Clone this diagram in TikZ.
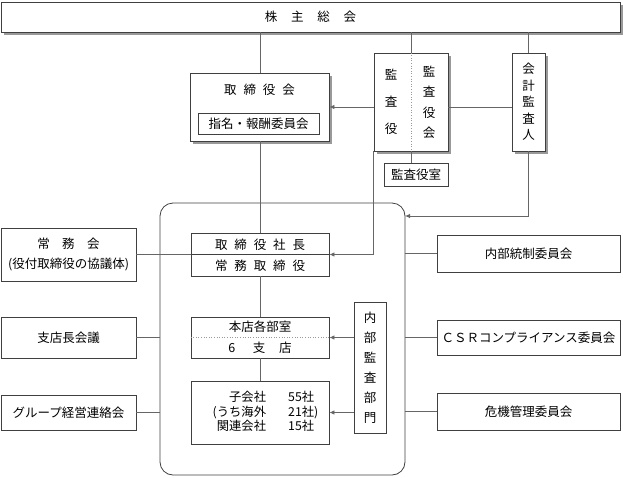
\documentclass[tikz,border=0pt]{standalone}
\usepackage{fontspec}
\setmainfont{Noto Sans CJK JP}
\usetikzlibrary{arrows.meta,backgrounds}
\tikzset{
  bx/.style={draw=black!75, line width=0.8pt, fill=white, inner sep=0pt, font={\fontsize{12.5}{15}\selectfont}},
  shbox/.style={bx},
  shd/.style={fill=black!40},
  ln/.style={draw=black!60, line width=0.8pt},
  arr/.style={ln, -{Latex[length=5pt,width=4.5pt]}},
  dv/.style={draw=black!40, line width=0.6pt, dotted},
  txt/.style={inner sep=0pt, font={\fontsize{12.5}{15}\selectfont}}
}
\begin{document}
\begin{tikzpicture}[x=1pt,y=-1pt]
\useasboundingbox (0,0) rectangle (623,477);
% big rounded box
\node[draw=black!75, line width=0.8pt, rounded corners=13pt, minimum width=245pt, minimum height=272pt, inner sep=0pt] (big) at (282.5,339) {};
% top
\node[shbox, minimum width=619pt, minimum height=30pt] (kabu) at (310.5,17) {株\hspace{1.1em}主\hspace{1.1em}総\hspace{1.1em}会};
\node[shbox, minimum width=139pt, minimum height=68pt] (tb) at (259.5,107) {};
\node[txt] (tbt) at (259.5,90) {取\hspace{0.55em}締\hspace{0.55em}役\hspace{0.55em}会};
\node[bx, minimum width=121pt, minimum height=21pt] (shimei) at (258.5,123.5) {指名・報酬委員会};
\node[shbox, minimum width=74pt, minimum height=98pt] (kansa) at (411,102) {};
\draw[dv] (kansa.north) -- (kansa.south);
\node[txt, align=center, font={\fontsize{12.5}{27}\selectfont}] (kyaku) at (391,102) {監\\査\\役};
\node[txt, align=center, font={\fontsize{12.5}{20.5}\selectfont}] (kkai) at (429,102.5) {監\\査\\役\\会};
\node[bx, minimum width=64pt, minimum height=23pt] (shitsu) at (416,174.5) {監査役室};
\node[shbox, minimum width=33pt, minimum height=98pt, align=center, font={\fontsize{12.5}{16.5}\selectfont}] (kaikei) at (528.5,102) {会\\計\\監\\査\\人};
% shadows
\begin{scope}[on background layer]
\foreach \n in {kabu,tb,kansa,kaikei}{
  \fill[shd] ([shift={(3,3)}]\n.south west) rectangle ([shift={(3,3)}]\n.north east);
}
\end{scope}
% inner boxes
\node[bx, minimum width=138pt, minimum height=43pt] (pres) at (260,254.5) {};
\draw[draw=black!75, line width=0.8pt] (pres.west) -- (pres.east);
\node[txt] (prest) at (260,244.5) {取\hspace{0.55em}締\hspace{0.55em}役\hspace{0.55em}社\hspace{0.55em}長};
\node[txt] (presb) at (260,265.5) {常\hspace{0.55em}務\hspace{0.55em}取\hspace{0.55em}締\hspace{0.55em}役};
\node[bx, minimum width=138pt, minimum height=41pt] (honten) at (260,337.5) {};
\draw[dv] (honten.west) -- (honten.east);
\node[txt] (hontent) at (260,327) {本店各部室};
\node[txt] (hontenb) at (260,348) {6\hspace{1.4em}支\hspace{1.1em}店};
\node[bx, minimum width=138pt, minimum height=63pt] (kog) at (260,412.5) {};
\node[txt, font={\fontsize{12.3}{14.5}\selectfont}] (kogt) at (265.5,413) {\begin{tabular}{@{}r@{\hspace{1.8em}}l@{}}子会社 & 55社\\(うち海外 & 21社)\\関連会社 & 15社\end{tabular}};
\node[bx, minimum width=32pt, minimum height=131pt, align=center, font={\fontsize{12.5}{20}\selectfont}] (naibu) at (370,367.5) {内\\部\\監\\査\\部\\門};
% left
\node[bx, minimum width=135pt, minimum height=53pt, align=center, font={\fontsize{12.5}{20}\selectfont}] (joumu) at (68.5,254.5) {常\hspace{1em}務\hspace{1em}会\\(役付取締役の協議体)};
\node[bx, minimum width=135pt, minimum height=41pt] (shiten) at (68.5,337.5) {支店長会議};
\node[bx, minimum width=135pt, minimum height=35pt] (group) at (68.5,412.5) {グループ経営連絡会};
% right
\node[bx, minimum width=183pt, minimum height=37pt] (naibutousei) at (528.5,253.5) {内部統制委員会};
\node[bx, minimum width=183pt, minimum height=35pt] (csr) at (528.5,337.5) {ＣＳＲコンプライアンス委員会};
\node[bx, minimum width=183pt, minimum height=37pt] (kiki) at (528.5,411.5) {危機管理委員会};
% connectors
\coordinate (kaend) at (405,216);
\draw[ln] (kabu.south -| tb.north) ++(0.5,0) coordinate (k1) -- (k1 |- tb.north);
\draw[ln] (kabu.south -| kansa.north) -- (kansa.north);
\draw[ln] (kabu.south -| kaikei.north) -- (kaikei.north);
\draw[arr] (kansa.west |- tb.east) -- (tb.east);
\draw[ln] (kansa.east |- tb.east) -- (kaikei.west |- tb.east);
\draw[ln] (kansa.south) -- (kansa.south |- shitsu.north);
\draw[arr] (kansa.south west) |- (pres.east);
\draw[arr] (kaikei.south) |- (kaend);
\draw[ln] (tb.south -| pres.north) -- (pres.north);
\draw[ln] (pres.south) -- (honten.north);
\draw[ln] (honten.south) -- (kog.north);
\draw[arr] (naibu.west |- honten.east) -- (honten.east);
\draw[arr] (naibu.west |- kog.east) -- (kog.east);
\draw[ln] (joumu.east) -- (pres.west);
\draw[ln] (shiten.east) -- (shiten.east -| big.west);
\draw[ln] (group.east) -- (group.east -| big.west);
\draw[ln] (naibutousei.west -| big.east) -- (naibutousei.west);
\draw[ln] (csr.west -| big.east) -- (csr.west);
\draw[ln] (kiki.west -| big.east) -- (kiki.west);
\end{tikzpicture}
\end{document}
